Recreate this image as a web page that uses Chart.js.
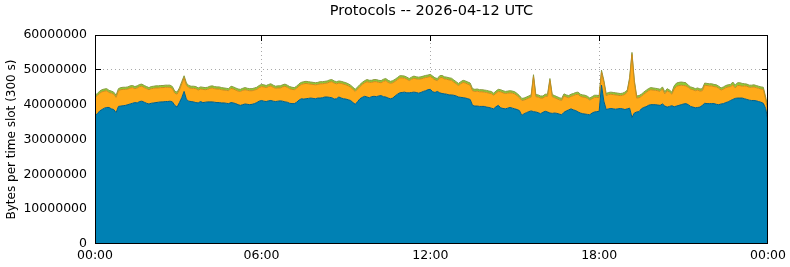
<!DOCTYPE html>
<html><head><meta charset="utf-8">
<script src="https://cdn.jsdelivr.net/npm/chart.js@4/dist/chart.umd.min.js"></script>
<style>html,body{margin:0;padding:0;background:#fff}#wrap{width:790px;height:267px}</style>
</head><body><div id="wrap"><canvas id="c" width="790" height="267"></canvas></div>
<script>
// 5-minute slots (end time of slot, minutes after midnight): 00:05 .. 24:00
const slotMinutes = Array.from({length: 288}, (_, i) => (i + 1) * 5);
const xTickMinutes = [5, 360, 720, 1080, 1440];
const xTickLabels = ['00:00', '06:00', '12:00', '18:00', '00:00'];
const yTickValues = [0, 10000000, 20000000, 30000000, 40000000, 50000000, 60000000];
const seriesNames = ['TCP', 'UDP', 'Other'];
const title = 'Protocols -- 2026-04-12 UTC';
const yTitle = 'Bytes per time slot (300 s)';

// values in millions of bytes per slot
const tcpMB = [
36.9,37.4,38.2,38.6,39.0,39.2,39.2,38.8,38.6,37.7,
39.5,39.6,39.7,39.8,40.0,40.2,40.4,40.6,40.5,40.9,
41.0,40.7,40.4,40.2,40.4,40.5,40.6,40.7,40.8,40.8,
40.9,40.9,41.0,40.8,39.8,39.3,40.6,42.0,43.8,41.5,
41.0,40.9,40.8,40.6,40.5,40.9,40.6,40.7,40.8,40.8,
40.8,40.7,40.6,40.6,40.5,40.5,40.4,40.3,40.6,40.5,
40.3,40.0,39.8,40.0,40.2,40.1,40.0,40.1,40.3,40.6,
41.0,41.2,41.0,40.9,41.1,41.2,41.0,40.9,41.0,41.1,
41.0,40.8,40.7,40.4,40.3,40.3,40.7,41.3,41.7,41.6,
41.7,41.8,41.9,41.8,41.7,41.9,41.9,42.0,42.2,42.2,
42.1,42.0,41.6,41.7,42.2,41.9,41.7,41.6,41.4,41.2,
40.6,40.1,40.9,41.7,42.1,42.4,42.2,42.0,42.3,42.4,
42.3,42.5,42.6,42.3,42.2,41.9,41.7,41.9,42.5,43.0,
43.4,43.5,43.6,43.4,43.4,43.5,43.6,43.5,43.3,43.5,
43.8,44.0,44.3,44.4,43.7,43.5,43.8,43.4,43.2,
43.1,43.0,42.8,42.8,42.7,42.5,42.2,42.1,42.0,41.9,
41.7,41.5,39.8,39.6,39.6,39.5,39.5,39.5,39.3,39.2,
39.0,38.8,39.4,39.8,39.1,38.9,38.8,39.0,39.2,39.0,
38.8,38.6,38.3,36.9,37.4,37.7,38.0,38.2,38.0,37.9,
37.7,37.4,37.8,38.1,37.9,37.6,37.5,37.6,37.5,37.3,
37.1,37.8,38.2,38.5,38.8,38.5,38.3,37.9,37.6,37.4,
37.3,37.2,37.1,37.6,37.9,38.0,38.1,45.6,41.0,38.6,
38.8,38.9,38.8,38.7,38.8,38.9,38.8,38.6,38.8,39.0,
36.3,37.6,37.9,38.0,38.8,39.2,39.4,39.8,40.0,40.0,
40.0,39.9,39.8,40.2,39.6,39.3,39.5,39.7,39.4,39.6,
39.8,40.0,40.2,40.3,40.0,39.5,39.3,39.1,39.2,39.3,
39.8,40.4,40.3,40.3,40.3,40.3,40.1,40.0,40.2,40.3,
40.6,40.8,41.2,41.5,41.8,41.9,41.9,41.9,41.7,41.5,
41.3,41.2,41.2,41.1,40.9,40.7,40.4,38.9,35.5
];
const udpMB = [
5.2,5.2,5.1,5.1,4.9,4.8,4.3,4.5,4.4,4.4,
4.5,4.7,4.7,4.6,4.5,4.6,4.5,4.0,4.3,4.3,
4.3,4.2,4.2,4.1,4.2,4.2,4.2,4.1,4.1,4.1,
4.1,4.1,4.0,3.8,3.5,3.7,3.6,4.0,3.9,4.1,
3.9,3.8,3.9,4.0,3.7,3.6,3.8,3.6,3.6,3.9,
4.0,3.9,3.9,3.9,3.8,3.7,3.7,3.7,4.1,4.0,
3.9,3.9,4.0,4.1,4.1,4.0,4.0,3.9,3.9,3.8,
3.9,4.0,4.1,4.0,4.1,4.2,4.0,3.8,3.8,3.7,
4.1,4.5,4.3,4.2,4.1,4.0,4.0,4.1,4.1,4.4,
4.4,4.2,4.0,4.0,4.0,3.9,4.1,4.0,3.9,4.0,
4.4,4.6,4.6,4.3,4.0,4.2,4.2,4.1,4.0,3.8,
3.8,3.7,3.6,3.5,3.7,3.9,4.4,4.4,4.1,4.2,
4.3,3.9,3.7,4.4,4.7,4.5,4.4,4.4,4.2,4.2,
4.3,4.2,4.0,3.9,3.5,3.8,4.0,3.9,4.0,3.9,
3.8,3.8,3.6,3.7,3.9,3.6,3.1,4.3,4.6,
4.3,4.3,4.3,4.2,3.8,3.5,3.3,3.9,4.4,4.3,
4.2,4.1,4.2,4.2,4.3,4.2,4.2,4.1,4.2,4.1,
4.2,3.9,3.9,4.0,4.6,4.5,4.4,4.3,4.2,4.3,
4.3,4.0,3.7,4.3,3.9,3.9,3.9,4.0,10.0,4.4,
4.5,4.5,4.1,4.3,4.5,9.3,4.8,4.4,4.2,4.1,
4.1,4.7,4.0,3.5,3.6,4.1,4.6,5.1,4.8,4.8,
4.8,4.6,4.2,4.1,4.2,4.1,3.9,3.7,5.4,4.0,
4.1,4.1,4.1,4.1,3.9,3.7,3.9,4.4,4.8,8.2,
18.1,8.8,4.0,4.0,3.6,3.8,4.1,4.2,4.3,4.2,
4.1,4.1,4.0,4.3,3.5,4.7,4.1,3.3,5.1,5.7,
5.7,5.6,5.3,5.1,5.0,5.0,5.0,4.9,5.0,4.6,
4.2,5.2,5.2,5.1,5.1,4.9,5.0,4.7,4.0,4.2,
4.3,4.3,4.0,4.2,3.0,3.6,3.6,3.4,3.7,3.8,
3.7,3.8,3.9,3.8,3.8,3.8,4.0,2.7,2.7
];
const otherMB = [
0.6,0.6,0.6,0.6,0.6,0.6,0.6,0.6,0.6,0.6,
0.6,0.6,0.6,0.6,0.6,0.6,0.6,0.6,0.6,0.6,
0.6,0.6,0.6,0.6,0.6,0.6,0.6,0.6,0.6,0.6,
0.6,0.6,0.6,0.6,0.6,0.6,0.6,0.6,0.6,0.6,
0.6,0.6,0.6,0.6,0.6,0.6,0.6,0.6,0.6,0.6,
0.6,0.6,0.6,0.6,0.6,0.6,0.6,0.6,0.6,0.6,
0.6,0.6,0.6,0.6,0.6,0.6,0.6,0.6,0.6,0.6,
0.6,0.6,0.6,0.6,0.6,0.6,0.6,0.6,0.6,0.6,
0.6,0.6,0.6,0.6,0.6,0.6,0.6,0.6,0.6,0.6,
0.6,0.6,0.6,0.6,0.6,0.6,0.6,0.6,0.6,0.6,
0.6,0.6,0.6,0.6,0.6,0.6,0.6,0.6,0.6,0.6,
0.6,0.6,0.6,0.6,0.6,0.6,0.6,0.6,0.6,0.6,
0.6,0.6,0.6,0.6,0.6,0.6,0.6,0.6,0.6,0.6,
0.6,0.6,0.6,0.6,0.6,0.6,0.6,0.6,0.6,0.6,
0.6,0.6,0.6,0.6,0.6,0.6,0.6,0.6,0.6,
0.6,0.6,0.6,0.6,0.6,0.6,0.6,0.6,0.6,0.6,
0.6,0.6,0.6,0.6,0.6,0.6,0.6,0.6,0.6,0.6,
0.6,0.6,0.6,0.6,0.6,0.6,0.6,0.6,0.6,0.6,
0.6,0.6,0.6,0.6,0.6,0.6,0.6,0.6,0.6,0.6,
0.6,0.6,0.6,0.6,0.6,0.6,0.6,0.6,0.6,0.6,
0.6,0.6,0.6,0.6,0.6,0.6,0.6,0.6,0.6,0.6,
0.6,0.6,0.6,0.6,0.6,0.6,0.6,0.6,0.6,0.6,
0.6,0.6,0.6,0.6,0.6,0.6,0.6,0.6,0.6,0.6,
0.6,0.6,0.6,0.6,0.6,0.6,0.6,0.6,0.6,0.6,
0.6,0.6,0.6,0.6,0.6,0.6,0.6,0.6,0.9,0.9,
0.9,0.9,0.9,0.9,0.6,0.6,0.6,0.6,0.6,0.6,
0.6,0.6,0.6,0.6,0.6,0.6,0.6,0.6,0.6,0.6,
0.6,0.6,0.6,0.8,0.8,0.8,0.8,0.8,0.6,0.6,
0.6,0.6,0.6,0.6,0.6,0.6,0.6,0.6,0.6
];

const MB = 1000000;
Chart.defaults.font.family = "'DejaVu Sans', sans-serif";
Chart.defaults.color = '#000';

const framePlugin = {
  id: 'frame',
  beforeDatasetsDraw(chart) {
    const {ctx, chartArea: a, scales: {x, y}} = chart;
    ctx.save();
    ctx.lineWidth = 1;
    ctx.strokeStyle = '#a8a8a8';
    ctx.setLineDash([1, 3]);
    yTickValues.slice(1, -1).forEach(v => {
      const p = Math.floor(y.getPixelForValue(v)) + 0.5;
      ctx.beginPath(); ctx.moveTo(a.left, p); ctx.lineTo(a.right, p); ctx.stroke();
    });
    xTickMinutes.slice(1, -1).forEach(v => {
      const p = Math.floor(x.getPixelForValue(v)) + 0.5;
      ctx.beginPath(); ctx.moveTo(p, a.top); ctx.lineTo(p, a.bottom); ctx.stroke();
    });
    ctx.setLineDash([]);
    ctx.strokeStyle = '#000';
    yTickValues.slice(1, -1).forEach(v => {
      const p = Math.floor(y.getPixelForValue(v)) + 0.5;
      ctx.beginPath(); ctx.moveTo(a.left, p); ctx.lineTo(a.left + 6, p); ctx.stroke();
      ctx.beginPath(); ctx.moveTo(a.right - 6, p); ctx.lineTo(a.right, p); ctx.stroke();
    });
    xTickMinutes.slice(1, -1).forEach(v => {
      const p = Math.floor(x.getPixelForValue(v)) + 0.5;
      ctx.beginPath(); ctx.moveTo(p, a.top); ctx.lineTo(p, a.top + 6); ctx.stroke();
    });
    ctx.restore();
  },
  afterDatasetsDraw(chart) {
    const {ctx, chartArea: a} = chart;
    ctx.save();
    ctx.strokeStyle = '#000';
    ctx.lineWidth = 1;
    ctx.strokeRect(a.left + 0.5, a.top + 0.5, a.right - a.left - 1, a.bottom - a.top - 1);
    ctx.restore();
  }
};

const common = {pointRadius: 0, pointHoverRadius: 0, tension: 0, borderWidth: 1};
new Chart(document.getElementById('c'), {
  type: 'line',
  data: {
    labels: slotMinutes,
    datasets: [
      {...common, label: seriesNames[0], data: tcpMB.map(v => v * MB), backgroundColor: '#0081b4', borderColor: '#005f88', fill: 'origin'},
      {...common, label: seriesNames[1], data: udpMB.map(v => v * MB), backgroundColor: '#ffaa19', borderColor: '#c88a1e', fill: '-1'},
      {...common, label: seriesNames[2], data: otherMB.map(v => v * MB), backgroundColor: '#8ccb36', borderColor: '#8a9a40', fill: '-1'}
    ]
  },
  options: {
    responsive: false,
    animation: false,
    devicePixelRatio: 1,
    events: [],
    layout: {padding: {left: 0, right: 21, top: 0, bottom: 0}},
    plugins: {
      legend: {display: false},
      tooltip: {enabled: false},
      title: {display: true, fullSize: false, text: title, color: '#000', font: {size: 14.5, weight: 'normal', lineHeight: 1.2}, padding: {top: 3, bottom: 14.6}}
    },
    scales: {
      x: {
        type: 'linear', min: 5, max: 1440,
        afterBuildTicks: s => { s.ticks = xTickMinutes.map(v => ({value: v})); },
        ticks: {autoSkip: false, maxRotation: 0, minRotation: 0, padding: 4, color: '#000', font: {size: 12.5}, callback: (v, i) => xTickLabels[i]},
        grid: {display: false, drawTicks: false},
        border: {display: false},
        afterFit: s => { s.height = 23; }
      },
      y: {
        stacked: true, min: 0, max: 60 * MB,
        afterBuildTicks: s => { s.ticks = yTickValues.map(v => ({value: v})); },
        ticks: {padding: 8, color: '#000', font: {size: 12.5}, callback: v => String(v)},
        grid: {display: false, drawTicks: false},
        border: {display: false},
        title: {display: true, text: yTitle, color: '#000', font: {size: 12, weight: 'normal'}, padding: {top: 5, bottom: 0}},
        afterFit: s => { s.width = 95; }
      }
    }
  },
  plugins: [framePlugin]
});
</script>
</body></html>
